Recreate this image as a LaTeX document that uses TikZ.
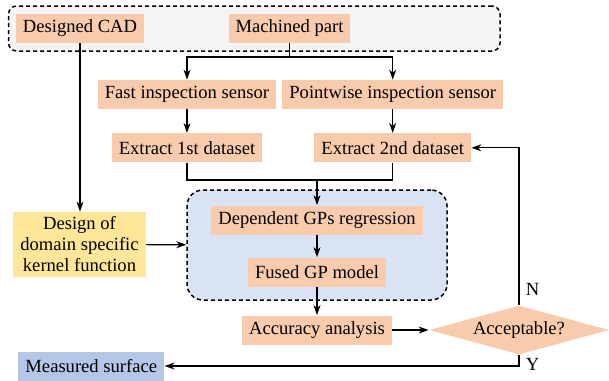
\documentclass[tikz,border=0pt]{standalone}
\usepackage{fontspec}
\setmainfont{Liberation Serif}
\usetikzlibrary{positioning}
\usetikzlibrary{shapes.geometric}
\usetikzlibrary{arrows.meta}
\definecolor{salmon}{HTML}{F8CBAD}
\definecolor{kernelyellow}{HTML}{FFE699}
\definecolor{gpblue}{HTML}{DAE3F3}
\definecolor{surfblue}{HTML}{B4C7E7}
\definecolor{topgray}{HTML}{F4F4F4}

\begin{document}
\begin{tikzpicture}[x=0.5pt,y=-0.5pt]
\fontsize{9.3}{10.5}\selectfont

% used shapes
\tikzstyle{block} = [rectangle, fill=salmon, inner xsep=3.5pt, inner ysep=0pt, minimum height=14.5pt, text centered]
\tikzstyle{blockyellow} = [block, fill=kernelyellow, align=center, minimum height=32.5pt]
\tikzstyle{blockblue} = [block, fill=surfblue]
\tikzstyle{decision} = [diamond, fill=salmon, inner sep=0pt, aspect=3.7, minimum width=90pt, minimum height=24.5pt]
\tikzstyle{groupbox} = [rectangle, draw, line width=0.75pt, dash pattern=on 2pt off 1.5pt]
\tikzstyle{line} = [draw, line width=0.6pt]
\tikzstyle{flow} = [line, -{Stealth[length=5pt,width=3.5pt]}]

\useasboundingbox (0,0) rectangle (609,380);

% dashed groups
\node [groupbox, rounded corners=4pt, fill=topgray, minimum width=245.7pt, minimum height=22.5pt] (top) at (254.3,28.5) {};
\node [groupbox, rounded corners=8pt, fill=gpblue, minimum width=130pt, minimum height=55pt] (gp) at (317,245) {};

\node [block] (cad) at (80,28) {Designed CAD};
\node [block] (part) at (289.5,28) {Machined part};

\node [block] (fast) at (187,94.5) {Fast inspection sensor};
\node [block] (point) at (392.7,94.5) {Pointwise inspection sensor};

\node [block, below = 11.75pt of fast] (ext1) {Extract 1st dataset};
\node [block, below = 11.75pt of point] (ext2) {Extract 2nd dataset};

\node [block] (dgp) at (317,220) {Dependent GPs regression};
\node [block] (fused) at (317,272) {Fused GP model};
\node [block] (acc) at (317,330) {Accuracy analysis};

\node [blockyellow] (kernel) at (79.5,244.5) {Design of\\domain specific\\kernel function};

\node [decision] (ok) at (519,330) {Acceptable?};
\node [blockblue] (surf) at (91.3,366) {Measured surface};

\coordinate (split) at (289.5,57);
\coordinate (merge) at (317,180);

\draw [line] (part) -- (split);
\draw [flow] (split) -| (fast);
\draw [flow] (split) -| (point);

\draw [flow] (fast) -- (ext1);
\draw [flow] (point) -- (ext2);

\draw [line] (ext1.south) |- (merge) -| (ext2.south);
\draw [flow] (merge) -- (dgp);

\draw [flow] (cad) -- (cad |- kernel.north);
\draw [flow] (kernel) -- (gp);

\draw [flow] (dgp) -- (fused);
\draw [flow] (fused) -- (acc);
\draw [flow] (acc) -- (ok);

\draw [flow] (ok.north) |- node [pos=0.05, right] {N} (ext2.east);
\draw [flow] (ok.south) |- node [pos=0.45, right] {Y} (surf.east);

\end{tikzpicture}
\end{document}
